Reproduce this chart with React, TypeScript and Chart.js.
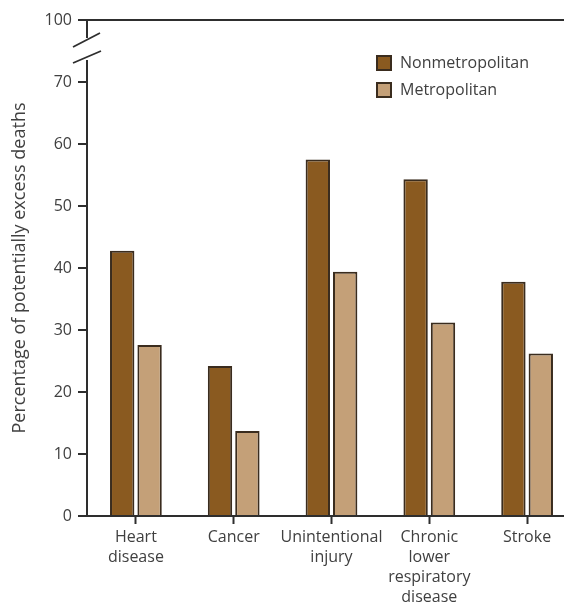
import React, { useEffect, useRef } from "react";
import { Chart, registerables } from "chart.js";

Chart.register(...registerables);

const categories: (string | string[])[] = [
  ["Heart", "disease"],
  "Cancer",
  ["Unintentional", "injury"],
  ["Chronic", "lower", "respiratory", "disease"],
  "Stroke",
];
const nonmetroValues = [42.8, 24.2, 57.5, 54.3, 37.8];
const metroValues = [27.6, 13.7, 39.4, 31.2, 26.2];
const seriesNames = ["Nonmetropolitan", "Metropolitan"];
const yTickValues = [0, 10, 20, 30, 40, 50, 60, 70, 80];
const yTickLabels = ["0", "10", "20", "30", "40", "50", "60", "70", "100"];
const yTitle = "Percentage of potentially excess deaths";

const DARK = "#8a5a20";
const LIGHT = "#c4a078";
const EDGE = "#3a2c1e";
const AXIS = "#2e2e2e";
const TEXT = "#404040";
const FONT = "'Open Sans', sans-serif";

const breakPlugin = {
  id: "axisBreak",
  afterDraw(chart: any) {
    const ctx = chart.ctx;
    const y = chart.scales.y;
    const x0 = chart.chartArea.left;
    const yc = y.getPixelForValue(75);
    ctx.save();
    ctx.fillStyle = "#ffffff";
    ctx.fillRect(x0 - 3, yc - 13, 6, 22);
    ctx.strokeStyle = AXIS;
    ctx.lineWidth = 1.8;
    ctx.beginPath();
    ctx.moveTo(x0 - 14, yc - 4);
    ctx.lineTo(x0 + 13, yc - 18);
    ctx.moveTo(x0 - 14, yc + 12);
    ctx.lineTo(x0 + 14, yc);
    ctx.stroke();
    ctx.restore();
  },
};

const legendPlugin = {
  id: "customLegend",
  afterDraw(chart: any) {
    const ctx = chart.ctx;
    const items = chart.data.datasets;
    const x = 377;
    let yPos = 63;
    ctx.save();
    ctx.font = `16px ${FONT}`;
    ctx.textBaseline = "middle";
    items.forEach((ds: any) => {
      ctx.fillStyle = ds.backgroundColor;
      ctx.fillRect(x, yPos - 7, 14, 14);
      ctx.strokeStyle = EDGE;
      ctx.lineWidth = 2;
      ctx.strokeRect(x, yPos - 7, 14, 14);
      ctx.fillStyle = TEXT;
      ctx.fillText(ds.label, x + 23, yPos);
      yPos += 27;
    });
    ctx.restore();
  },
};

export default function App() {
  const ref = useRef<HTMLCanvasElement>(null);
  useEffect(() => {
    if (!ref.current) return;
    const chart = new Chart(ref.current, {
      type: "bar",
      data: {
        labels: categories,
        datasets: [
          {
            label: seriesNames[0],
            data: nonmetroValues,
            backgroundColor: DARK,
            borderColor: EDGE,
            borderWidth: 2,
          },
          {
            label: seriesNames[1],
            data: metroValues,
            backgroundColor: LIGHT,
            borderColor: EDGE,
            borderWidth: 2,
          },
        ],
      },
      options: {
        responsive: false,
        animation: false,
        layout: { padding: { top: 20, left: 0, right: 4, bottom: 0 } },
        datasets: {
          bar: { categoryPercentage: 0.56, barPercentage: 0.89 },
        },
        plugins: {
          legend: { display: false },
          tooltip: { enabled: false },
        },
        scales: {
          x: {
            afterFit: (s: any) => {
              s.height = 91;
            },
            grid: {
              offset: false,
              drawOnChartArea: false,
              drawTicks: true,
              tickLength: 8,
              tickColor: AXIS,
              tickWidth: 2,
            },
            border: { display: true, color: AXIS, width: 2 },
            ticks: {
              color: TEXT,
              padding: 3,
              maxRotation: 0,
              autoSkip: false,
              font: { family: FONT, size: 16, lineHeight: 1.25 },
            },
          },
          y: {
            min: 0,
            max: 80,
            afterFit: (s: any) => {
              s.width = 87;
            },
            afterBuildTicks: (s: any) => {
              s.ticks = yTickValues.map((v) => ({ value: v }));
            },
            grid: {
              drawOnChartArea: true,
              drawTicks: true,
              tickLength: 9,
              tickColor: AXIS,
              tickWidth: 2,
              lineWidth: 2,
              color: (c: any) =>
                c.tick && c.tick.value === 80 ? AXIS : "rgba(0,0,0,0)",
            },
            border: { display: true, color: AXIS, width: 2 },
            ticks: {
              color: TEXT,
              padding: 6,
              font: { family: FONT, size: 16 },
              callback: (v: any) => {
                const i = yTickValues.indexOf(Number(v));
                return i >= 0 ? yTickLabels[i] : "";
              },
            },
            title: {
              display: true,
              text: yTitle,
              color: TEXT,
              padding: { top: 9, bottom: 0 },
              font: { family: FONT, size: 18 },
            },
          },
        },
      },
      plugins: [breakPlugin, legendPlugin],
    });
    return () => chart.destroy();
  }, []);
  return (
    <div
      style={{
        position: "absolute",
        left: 0,
        top: 0,
        width: 564,
        height: 607,
        overflow: "hidden",
        background: "#ffffff",
      }}
    >
      <canvas ref={ref} width={580} height={607} style={{ width: 580, height: 607 }} />
    </div>
  );
}
